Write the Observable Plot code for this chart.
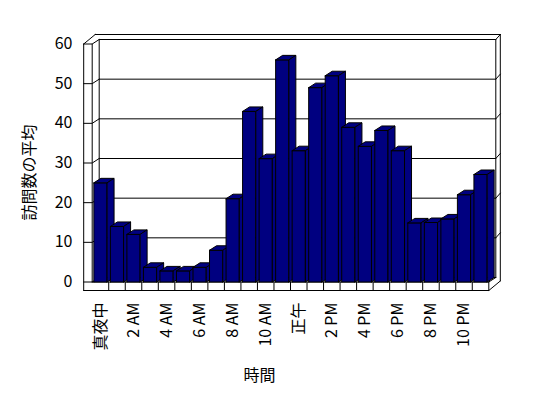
<!DOCTYPE html>
<html><head><meta charset="utf-8">
<script src="https://cdn.jsdelivr.net/npm/d3@7"></script>
<script src="https://cdn.jsdelivr.net/npm/@observablehq/plot@0.6"></script>
<style>body{margin:0;background:#fff}</style>
</head><body><div id="chart"></div>
<script>
// ---- data ----
const hours = ["真夜中","1 AM","2 AM","3 AM","4 AM","5 AM","6 AM","7 AM","8 AM","9 AM","10 AM","11 AM",
               "正午","1 PM","2 PM","3 PM","4 PM","5 PM","6 PM","7 PM","8 PM","9 PM","10 PM","11 PM"];
const visits = [25, 14, 12, 3.7, 2.8, 2.8, 3.7, 8, 21, 43, 31.1, 56,
                33.1, 49, 52, 39, 34.2, 38.2, 33.1, 14.9, 15, 15.9, 22, 27.1];
const tickLabels = ["真夜中","2 AM","4 AM","6 AM","8 AM","10 AM","正午","2 PM","4 PM","6 PM","8 PM","10 PM"];
const yTicks = [0, 10, 20, 30, 40, 50, 60];
const yTitle = "訪問数の平均";
const xTitle = "時間";

// ---- layout / style ----
const W = 548, H = 398, mL = 91.7, mR = 59.7, mT = 43.5, mB = 116.5;
const n = hours.length, yMax = yTicks[yTicks.length - 1];
const bandPx = (W - mL - mR) / n, unitPx = (H - mT - mB) / yMax;
const DX = 7 / bandPx, DY = 4.5 / unitPx;     // depth of the 3D box
const BX = 4.5 / bandPx, BY = 5 / unitPx;     // back wall thickness
const WT = 8.5 / bandPx, FT = 8.5 / unitPx;   // left wall / floor thickness
const GAP = 0.1;
const NAVY = "#000080";
const FONT = "'Noto Sans CJK JP', 'Noto Sans', sans-serif";

// bar faces (front, top, side) drawn in order
const faces = [];
hours.forEach((h, i) => {
  const v = visits[i], a = i + GAP, b = i + 1 - GAP;
  const push = (k, pts) => pts.forEach(([x, y]) => faces.push({id: i * 3 + k, x, y}));
  push(0, [[a, 0], [a, v], [b, v], [b, 0], [a, 0]]);
  push(1, [[a, v], [a + DX, v + DY], [b + DX, v + DY], [b, v], [a, v]]);
  push(2, [[b, 0], [b, v], [b + DX, v + DY], [b + DX, DY], [b, 0]]);
});

// frame segments
const frame = [];
let sid = 0;
const seg = (pts) => { pts.forEach(([x, y]) => frame.push({id: sid, x, y})); sid++; };
const X0 = 0, X1 = n;
yTicks.forEach(v => {
  seg([[X0 + DX, v + DY], [X1 + DX, v + DY]]);            // back wall gridline
  seg([[X0 - WT, v], [X0, v], [X0 + DX, v + DY]]);         // left wall tick
  if (v > 0) seg([[X1 + DX, v + DY], [X1 + DX + BX, v + DY + BY]]); // back wall edge
});
seg([[X0 + DX, DY], [X0 + DX, yMax + DY]]);
seg([[X1 + DX, DY], [X1 + DX, yMax + DY]]);
seg([[X1 + DX + BX, -FT + DY + BY], [X1 + DX + BX, yMax + DY + BY]]);
seg([[X0 - WT + DX + BX, yMax + DY + BY], [X1 + DX + BX, yMax + DY + BY]]);
seg([[X0 - WT, yMax], [X0 - WT + DX + BX, yMax + DY + BY]]);
seg([[X0 - WT, -FT], [X0 - WT, yMax]]);
seg([[X0, 0], [X0, yMax]]);
seg([[X0, 0], [X1, 0]]);
seg([[X0 - WT, -FT], [X1, -FT]]);
seg([[X1, 0], [X1, -FT], [X1 + DX + BX, -FT + DY + BY]]);
seg([[X1, 0], [X1 + DX, DY]]);
for (let i = 1; i < n; i++) seg([[i, 0], [i, -FT]]);

const chart = Plot.plot({
  width: W, height: H,
  marginLeft: mL, marginRight: mR, marginTop: mT, marginBottom: mB,
  x: {domain: [0, n], axis: null},
  y: {domain: [0, yMax], axis: null},
  style: {fontFamily: FONT, fontSize: "16px", background: "white", color: "black"},
  marks: [
    Plot.line(frame, {x: "x", y: "y", z: "id", stroke: "black", strokeWidth: 1, fill: "none"}),
    Plot.line(faces, {x: "x", y: "y", z: "id", fill: NAVY, stroke: "black", strokeWidth: 1, strokeLinejoin: "miter"}),
    Plot.text(yTicks, {x: X0, y: d => d, dx: -19.7, textAnchor: "end", fontSize: 16, fill: "black"}),
    Plot.text(tickLabels, {x: (d, i) => i * 2 + 0.5, y: 0, dy: 20.5, rotate: -90, textAnchor: "end", fontSize: 16, fill: "black"}),
    Plot.text([yTitle], {x: X0, y: yMax / 2, dx: -62.7, dy: 9.5, rotate: -90, fontSize: 16, fill: "black"}),
    Plot.text([xTitle], {x: n / 2, y: 0, dx: -31, dy: 93.5, fontSize: 16, fill: "black"})
  ]
});
document.getElementById("chart").appendChild(chart);
</script>
</body></html>
